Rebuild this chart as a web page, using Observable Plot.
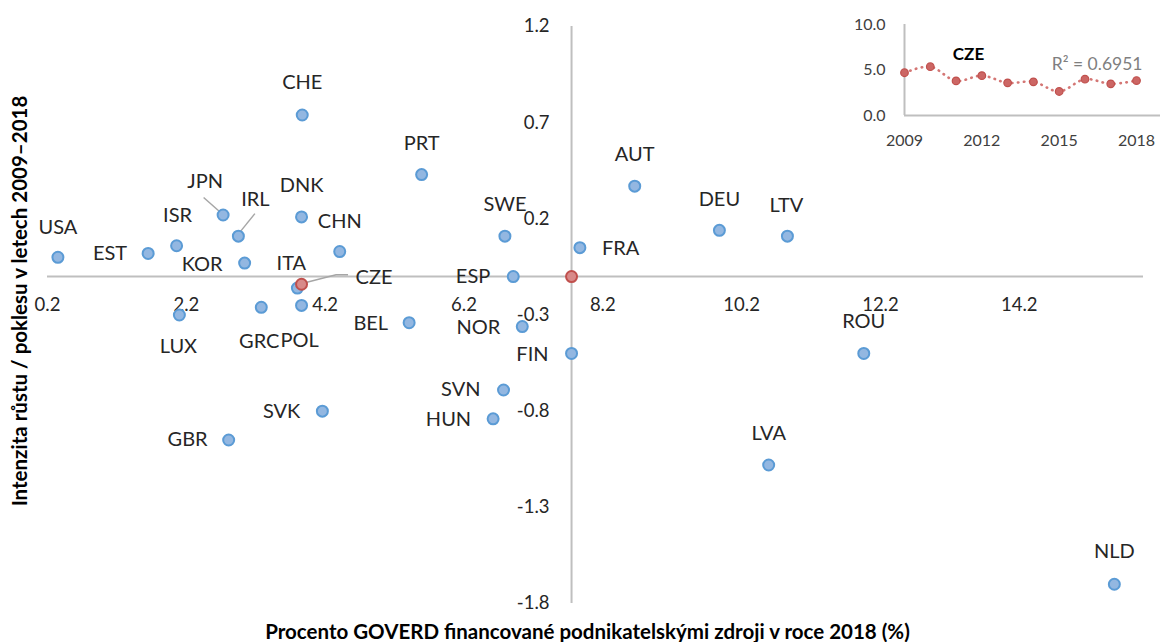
<!DOCTYPE html>
<html>
<head>
<meta charset="utf-8">
<script src="https://cdn.jsdelivr.net/npm/d3@7"></script>
<script src="https://cdn.jsdelivr.net/npm/@observablehq/plot@0.6"></script>
<style>
  html, body { margin: 0; padding: 0; background: #fff; overflow: hidden; }
  #wrap { position: relative; width: 1160px; height: 642px; }
  #main, #inset { position: absolute; left: 0; top: 0; }
  #inset { left: 860px; top: 0; }
</style>
</head>
<body>
<div id="wrap"><div id="main"></div><div id="inset"></div></div>
<script>
// ---------- data ----------
const countries = ["USA","EST","ISR","JPN","IRL","KOR","CHE","DNK","CHN","ITA","GRC","POL","LUX","SVK","GBR","PRT","SWE","ESP","BEL","NOR","FIN","SVN","HUN","FRA","AUT","DEU","LTV","ROU","LVA","NLD"];
const goverdBusinessShare = [0.35,1.65,2.06,2.73,2.95,3.04,3.87,3.86,4.41,3.80,3.28,3.86,2.10,4.16,2.81,5.59,6.79,6.91,5.41,7.04,7.75,6.77,6.62,7.87,8.66,9.88,10.86,11.96,10.59,15.57];
const growthIntensity = [0.00,0.02,0.06,0.22,0.11,-0.03,0.74,0.21,0.03,-0.16,-0.26,-0.25,-0.30,-0.80,-0.95,0.43,0.11,-0.10,-0.34,-0.36,-0.50,-0.69,-0.84,0.05,0.37,0.14,0.11,-0.50,-1.08,-1.70];
const czeName = "CZE";
const czeShare = 3.86;
const czeGrowth = -0.14;
const crossShare = 7.75;     // axis crossing (average)
const crossGrowth = -0.10;
const xTicks = [0.2, 2.2, 4.2, 6.2, 8.2, 10.2, 12.2, 14.2];
const yTicks = [1.2, 0.7, 0.2, -0.3, -0.8, -1.3, -1.8];
const xTitle = "Procento GOVERD financované podnikatelskými zdroji v roce 2018 (%)";
const yTitle = "Intenzita růstu / poklesu v letech 2009–2018";

const insetYears = [2009,2010,2011,2012,2013,2014,2015,2016,2017,2018];
const insetValues = [4.70,5.36,3.80,4.38,3.59,3.70,2.64,3.99,3.48,3.84];
const insetXTicks = [2009, 2012, 2015, 2018];
const insetYTicks = [0, 5, 10];
const insetLabel = "CZE";
const insetR2 = "R² = 0.6951";

// ---------- layout (label placement, px offsets) ----------
const labelPlace = {
  USA:[0,-30,"middle"], EST:[-21,0,"end"], ISR:[1,-30,"middle"], JPN:[-18,-33,"middle"],
  IRL:[17,-37,"middle"], KOR:[-22,2,"end"], CHE:[0,-32,"middle"], DNK:[0,-31,"middle"],
  CHN:[0,-30,"middle"], ITA:[-6,-24,"middle"], GRC:[-2,34,"middle"], POL:[-2,35,"middle"],
  LUX:[-1,32,"middle"], SVK:[-22,0,"end"], GBR:[-21,0,"end"], PRT:[0,-31,"middle"],
  SWE:[0,-32,"middle"], ESP:[-23,0,"end"], BEL:[-21,1,"end"], NOR:[-22,1,"end"],
  FIN:[-23,1,"end"], SVN:[-23,0,"end"], HUN:[-22,1,"end"], FRA:[22,1,"start"],
  AUT:[0,-32,"middle"], DEU:[0,-31,"middle"], LTV:[-1,-31,"middle"], ROU:[0,-32,"middle"],
  LVA:[0,-31,"middle"], NLD:[0,-33,"middle"], CZE:[54,-7,"start"]
};
const leaders = {
  JPN: [[-2,-2],[-19,-17]],
  IRL: [[0,-1],[17,-22]],
  CZE: [[0,0],[35,-9],[47,-9]]
};

const points = countries.map((c, i) => ({name: c, x: goverdBusinessShare[i], y: growthIntensity[i]}));
const cze = {name: czeName, x: czeShare, y: czeGrowth};
const allLabeled = [...points, cze];

const FONT = "Lato, 'Open Sans', sans-serif";
const TXT = "#262626";

const labelMarks = allLabeled.map(d => {
  const [dx, dy, anchor] = labelPlace[d.name];
  return Plot.text([d], {x: "x", y: "y", text: "name", dx, dy, textAnchor: anchor,
    fontSize: 20, fill: TXT});
});

const leaderMark = (index, scales) => {
  const g = d3.create("svg:g").attr("fill", "none").attr("stroke", "#a6a6a6").attr("stroke-width", 1.5);
  for (const d of allLabeled) {
    const pts = leaders[d.name];
    if (!pts) continue;
    const px = scales.x(d.x), py = scales.y(d.y);
    g.append("path").attr("d", d3.line()(pts.map(([a, b]) => [px + a, py + b])));
  }
  return g.node();
};

const main = Plot.plot({
  width: 1160, height: 642,
  marginLeft: 47, marginRight: 17, marginTop: 26, marginBottom: 39,
  x: {domain: [0.2, 15.99], axis: null},
  y: {domain: [-1.8, 1.2], axis: null},
  style: {fontFamily: FONT, background: "white", overflow: "visible"},
  marks: [
    Plot.ruleY([crossGrowth], {stroke: "#bfbfbf", strokeWidth: 2}),
    Plot.ruleX([crossShare], {stroke: "#bfbfbf", strokeWidth: 2}),
    Plot.text(xTicks, {x: d => d, y: () => crossGrowth, dy: 29, text: d => d.toFixed(1), fontSize: 18.5, fill: "#262626"}),
    Plot.text(yTicks, {x: () => crossShare, y: d => d, dx: -22, textAnchor: "end", text: d => d.toFixed(1), fontSize: 18.5, fill: "#262626"}),
    leaderMark,
    Plot.dot(points, {x: "x", y: "y", r: 5.5, fill: "#93b7e1", stroke: "#5b9bd5", strokeWidth: 2}),
    Plot.dot([cze], {x: "x", y: "y", r: 5.5, fill: "#d88a89", stroke: "#c0504d", strokeWidth: 2}),
    Plot.dot([{x: crossShare, y: crossGrowth}], {x: "x", y: "y", r: 5.5, fill: "#d88a89", stroke: "#c0504d", strokeWidth: 2}),
    ...labelMarks,
    Plot.text([xTitle], {frameAnchor: "bottom", textAnchor: "middle", lineAnchor: "middle", dx: -8, dy: 29, fontSize: 20.5, fontWeight: "bold", fill: "#000"}),
    Plot.text([yTitle], {frameAnchor: "left", textAnchor: "middle", rotate: -90, dx: -27, dy: -14, fontSize: 20.5, fontWeight: "bold", fill: "#000"})
  ]
});
document.getElementById("main").appendChild(main);

const insetData = insetYears.map((y, i) => ({year: y, value: insetValues[i]}));
const inset = Plot.plot({
  width: 300, height: 160,
  marginLeft: 44, marginRight: 0, marginTop: 24, marginBottom: 45,
  x: {domain: [2009, 2018.93], ticks: insetXTicks, tickFormat: "d", tickSize: 0, tickPadding: 19, label: null},
  y: {domain: [0, 10], ticks: insetYTicks, tickFormat: ".1f", tickSize: 0, tickPadding: 19, label: null},
  style: {fontFamily: FONT, fontSize: "16px", color: "#404040", background: "transparent", overflow: "visible"},
  marks: [
    Plot.ruleY([0], {stroke: "#bfbfbf", strokeWidth: 2}),
    Plot.ruleX([2009], {stroke: "#bfbfbf", strokeWidth: 2}),
    Plot.line(insetData, {x: "year", y: "value", curve: "catmull-rom", stroke: "#d47674", strokeWidth: 2.6, strokeDasharray: "0.5,5.5", strokeLinecap: "round"}),
    Plot.dot(insetData, {x: "year", y: "value", r: 3.8, fill: "#cc6664", stroke: "#c0504d", strokeWidth: 1.2}),
    Plot.text([insetLabel], {frameAnchor: "top-left", textAnchor: "middle", dx: 64, dy: 23, fontSize: 17, fontWeight: "bold", fill: "#000"}),
    Plot.text([insetR2], {frameAnchor: "top-right", dx: -18, dy: 33, textAnchor: "end", fontSize: 17.5, fill: "#7f7f7f"})
  ]
});
document.getElementById("inset").appendChild(inset);
</script>
</body>
</html>
